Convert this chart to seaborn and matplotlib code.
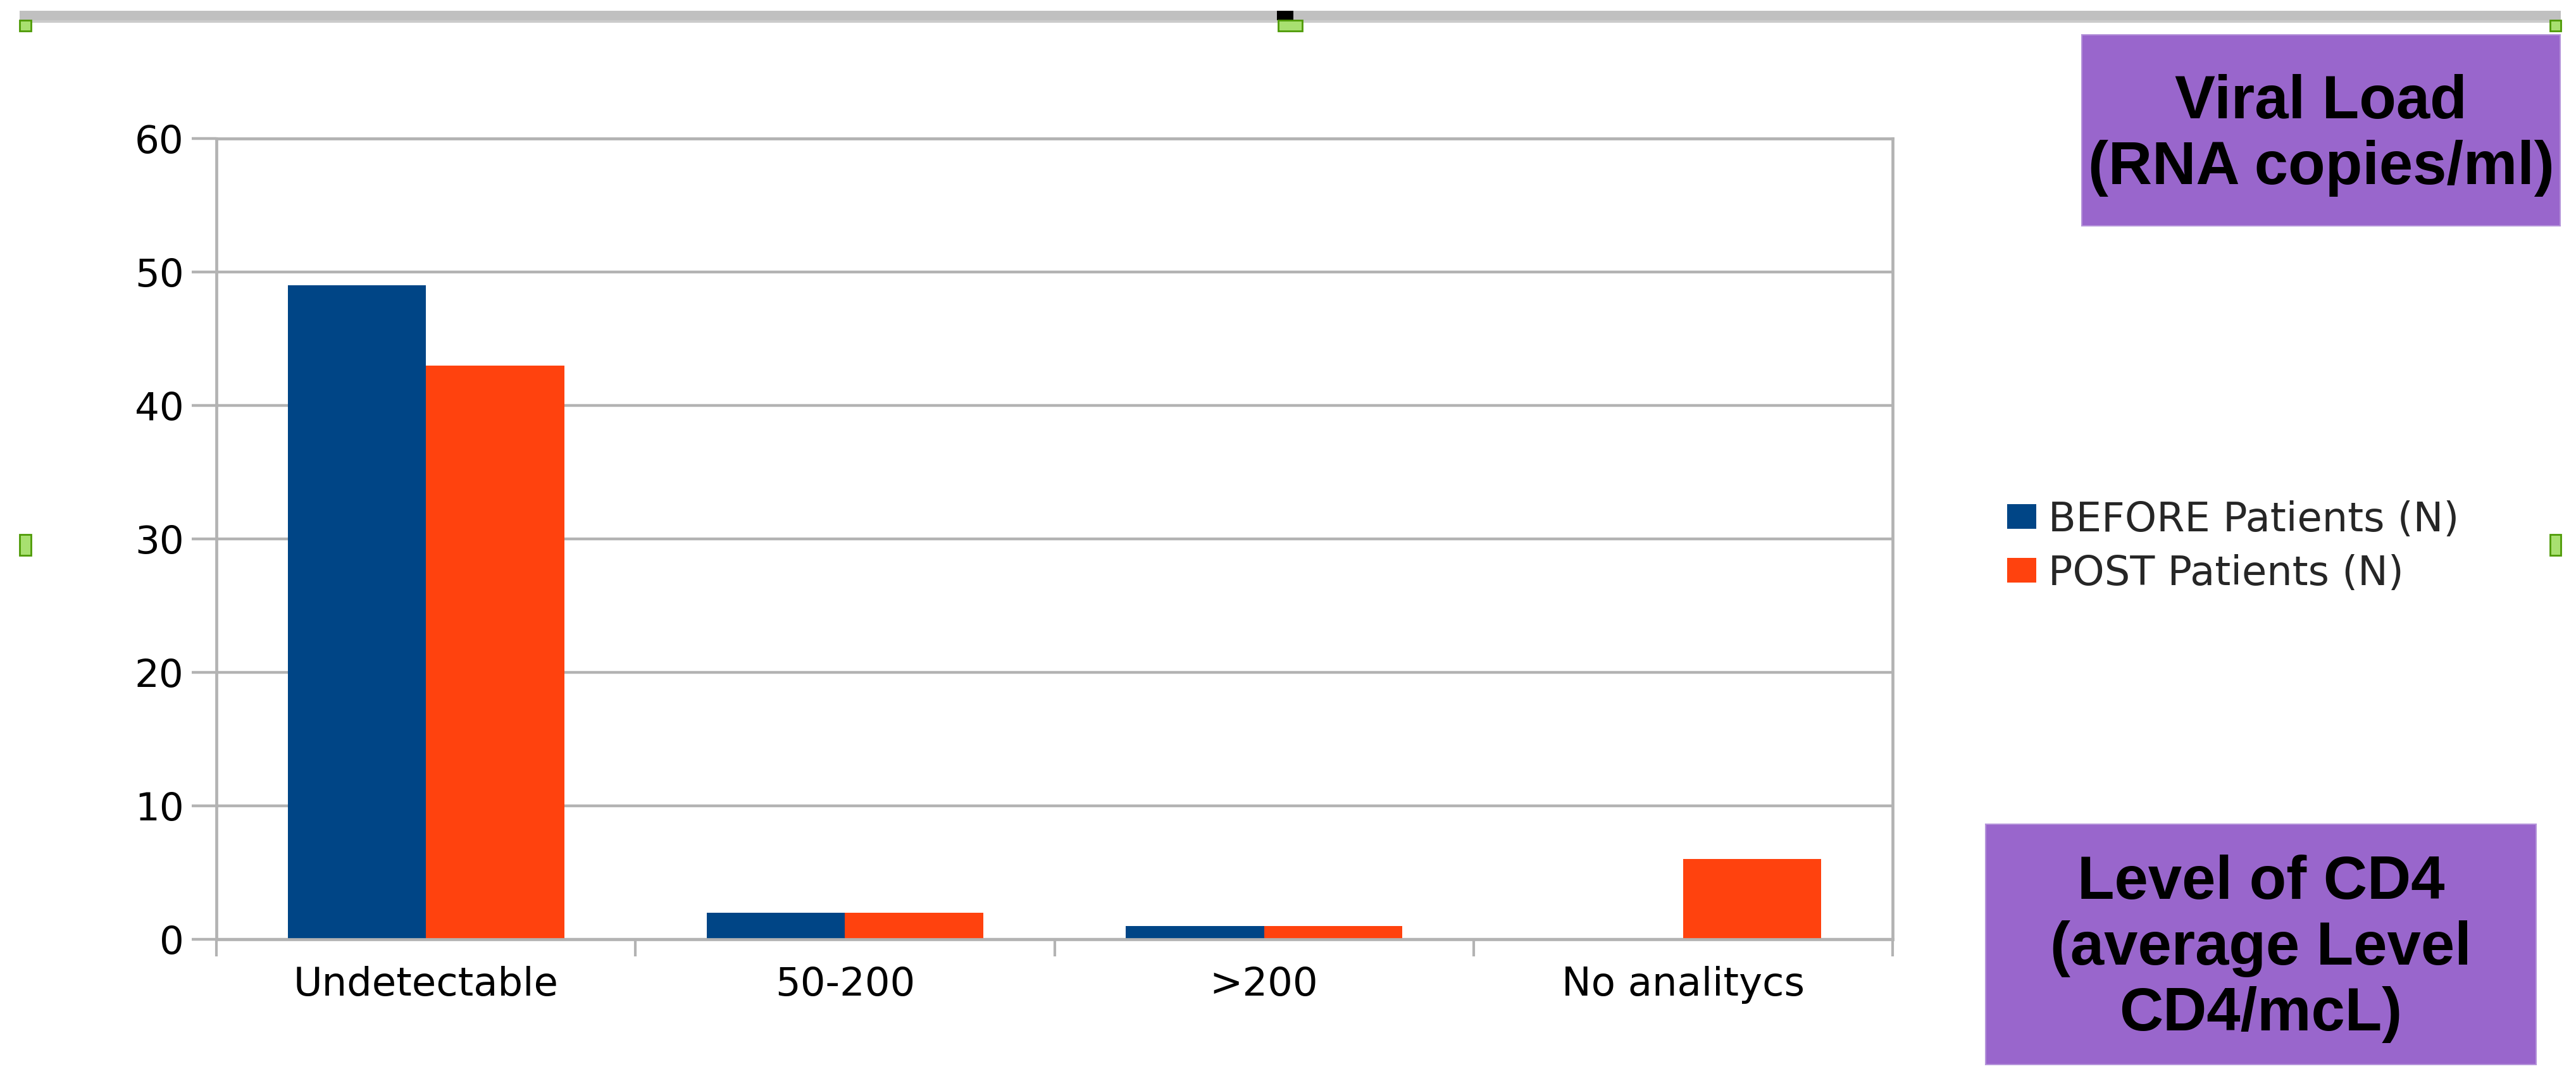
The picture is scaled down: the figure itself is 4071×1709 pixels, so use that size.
import matplotlib
matplotlib.use("Agg")
import matplotlib.pyplot as plt
from matplotlib.patches import Rectangle
import numpy as np
import pandas as pd
import seaborn as sns

# ---- Data ----
categories = ["Undetectable", "50-200", ">200", "No analitycs"]
before_patients = [49, 2, 1, 0]
post_patients = [43, 2, 1, 6]
series_names = ["BEFORE Patients (N)", "POST Patients (N)"]
series_colors = ["#004586", "#FF420E"]
y_ticks = [0, 10, 20, 30, 40, 50, 60]
box_labels = ["Viral Load\n(RNA copies/ml)", "Level of CD4\n(average Level\nCD4/mcL)"]

df = pd.DataFrame({
    "category": categories * 2,
    "series": [series_names[0]] * len(categories) + [series_names[1]] * len(categories),
    "value": before_patients + post_patients,
})

# Style
sns.set_style("white")
plt.rcParams['font.family'] = ['DejaVu Sans']

W, H = 4071, 1709
GRID = "#B3B3B3"
fig = plt.figure(figsize=(W / 100, H / 100), dpi=100)
fig.patch.set_facecolor("white")


def rect(x0, y0, x1, y1, **kw):
    # pixel box -> figure fraction rectangle
    return Rectangle((x0 / W, 1 - y1 / H), (x1 - x0) / W, (y1 - y0) / H,
                     transform=fig.transFigure, **kw)


# ---- Chart ----
ax = fig.add_axes([342 / W, 1 - 1485 / H, (2991 - 342) / W, (1485 - 219) / H])
sns.barplot(data=df, x="category", y="value", hue="series", palette=series_colors,
            width=0.66, saturation=1, linewidth=0, ax=ax)

ax.set_xlim(-0.5, len(categories) - 0.5)
ax.set_ylim(0, 60)
ax.set_yticks(y_ticks)
ax.set_xlabel("")
ax.set_ylabel("")
ax.set_axisbelow(True)
ax.yaxis.grid(True, color=GRID, linewidth=3.2)
ax.xaxis.grid(False)
for side in ["left", "right", "top", "bottom"]:
    ax.spines[side].set_visible(True)
    ax.spines[side].set_color(GRID)
    ax.spines[side].set_linewidth(3.4)

ax.tick_params(axis="y", which="major", length=28, width=3.2, color=GRID,
               pad=9, labelsize=44, labelcolor="black", left=True)
ax.tick_params(axis="x", which="major", length=0, pad=30, labelsize=45,
               labelcolor="black")
ax.set_xticks(np.arange(-0.5, len(categories), 1.0), minor=True)
ax.tick_params(axis="x", which="minor", length=19.5, width=3.0, color=GRID,
               bottom=True)

# ---- Legend ----
handles, labels = ax.get_legend_handles_labels()
if ax.get_legend() is not None:
    ax.get_legend().remove()
fig.legend(handles, labels, loc="center left", bbox_to_anchor=(3172 / W, 1 - 864 / H),
           frameon=False, fontsize=46, handlelength=0.72, handleheight=0.56,
           handletextpad=0.3, labelspacing=0.36, borderpad=0, borderaxespad=0)

# ---- Purple label boxes ----
fig.add_artist(rect(3290, 55, 4046, 357, facecolor="#9966CC", edgecolor="#B594DA", linewidth=1.5))
fig.text(3668 / W, 1 - 214 / H, box_labels[0], ha="center", va="center",
         multialignment="center", fontsize=69, fontweight="bold",
         family=["Liberation Sans", "DejaVu Sans"], color="black")

fig.add_artist(rect(3138, 1303, 4008, 1683, facecolor="#9966CC", edgecolor="#B594DA", linewidth=1.5))
fig.text(3573 / W, 1 - 1500 / H, box_labels[1], ha="center", va="center",
         multialignment="center", fontsize=69, fontweight="bold",
         family=["Liberation Sans", "DejaVu Sans"], color="black")

# ---- Selection frame bits ----
fig.add_artist(rect(31, 17, 4047, 32, facecolor="#C0C0C0", edgecolor="none"))
fig.add_artist(rect(31, 32, 4047, 36, facecolor="#CBCBCB", edgecolor="none"))
fig.add_artist(rect(2018, 17, 2044, 32, facecolor="black", edgecolor="none"))
for hx0, hy0, hx1, hy1 in [(31, 32, 49, 49), (2020, 32, 2058, 49), (4030, 32, 4047, 49),
                           (31, 845, 49, 878), (4030, 845, 4047, 878)]:
    fig.add_artist(rect(hx0, hy0, hx1, hy1, facecolor="#A8E070", edgecolor="#4E9A06", linewidth=2))

plt.savefig("out.png", dpi=100, facecolor="white")
print("Chart saved!")
